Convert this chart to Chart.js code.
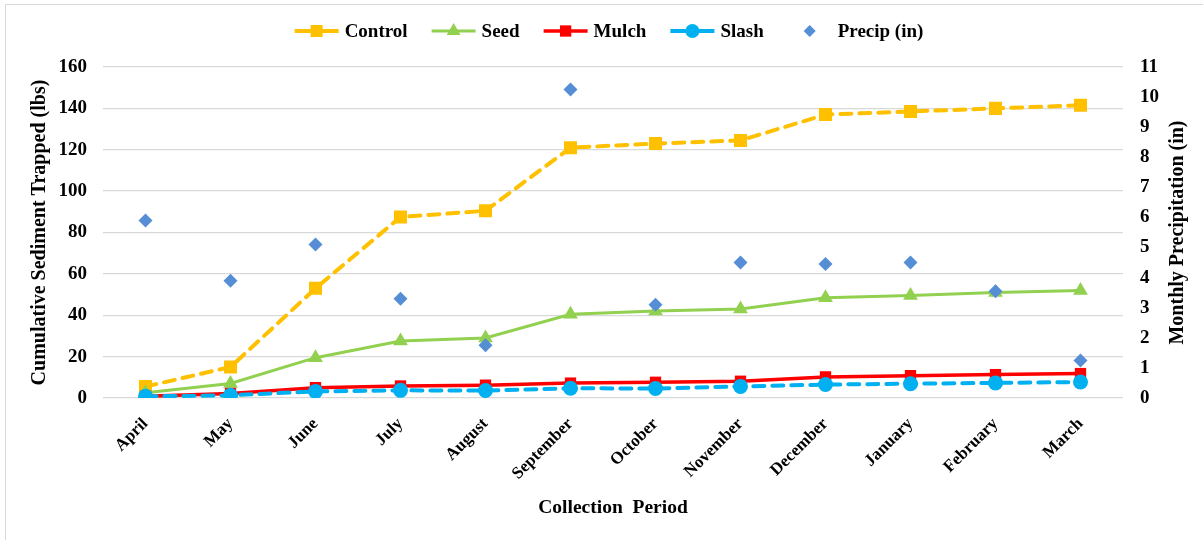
<!DOCTYPE html>
<html>
<head>
<meta charset="utf-8">
<title>Cumulative Sediment Trapped</title>
<script src="https://cdn.jsdelivr.net/npm/chart.js@4.4.1/dist/chart.umd.min.js"></script>
<style>
  html, body { margin: 0; padding: 0; background: #ffffff; }
  #frame { position: absolute; left: 5px; top: 4px; width: 1230px; height: 560px;
           border: 1px solid #D9D9D9; box-sizing: border-box; }
  #wrap { position: absolute; left: 0; top: 0; width: 1203px; height: 540px; }
</style>
</head>
<body>
<div id="frame"></div>
<div id="wrap"><canvas id="c" width="1203" height="540"></canvas></div>
<script>
// Collection periods (one per month)
const months = ['April', 'May', 'June', 'July', 'August', 'September',
                'October', 'November', 'December', 'January', 'February', 'March'];

// Cumulative sediment trapped per treatment (lbs)
const control = [5.5, 15, 53, 87.5, 90.5, 121, 123, 124.5, 137, 138.5, 140, 141.5];
const seed    = [2.5, 7, 19.5, 27.5, 29, 40.5, 42, 43, 48.5, 49.5, 51, 52];
const mulch   = [0.8, 2.2, 5, 5.8, 6.2, 7.2, 7.6, 8.1, 10.2, 10.8, 11.3, 11.8];
const slash   = [0.8, 1.3, 3.2, 3.7, 3.6, 4.7, 4.6, 5.6, 6.5, 6.9, 7.3, 7.7];

// Monthly precipitation (in)
const precip  = [5.9, 3.9, 5.1, 3.3, 1.75, 10.25, 3.1, 4.5, 4.45, 4.5, 3.55, 1.25];

// Axis tick settings
const sedimentTicks = { min: 0, max: 160, step: 20 };
const precipTicks   = { min: 0, max: 11, step: 1 };

const SERIF = '"Liberation Serif", "Times New Roman", Times, serif';
const boldFont = (size) => ({ family: SERIF, size: size, weight: 'bold' });

// Legend drawn as line + marker + label, centred over the plot
const seriesLegend = {
  id: 'seriesLegend',
  afterDraw(chart) {
    const ctx = chart.ctx;
    const area = chart.chartArea;
    ctx.save();
    ctx.font = 'bold 19px ' + SERIF;
    ctx.textBaseline = 'middle';
    const lineLen = 44, gap = 6, spacing = 24, y = 31;
    const items = chart.data.datasets.map(ds => ({
      ds, w: lineLen + gap + ctx.measureText(ds.label).width
    }));
    const total = items.reduce((s, it) => s + it.w, 0) + spacing * (items.length - 1);
    let x = (area.left + area.right) / 2 - 4 - total / 2;
    items.forEach(({ ds, w }) => {
      if (ds.showLine !== false) {
        ctx.beginPath();
        ctx.strokeStyle = ds.borderColor;
        ctx.lineWidth = ds.borderWidth;
        ctx.setLineDash([]);
        ctx.moveTo(x, y);
        ctx.lineTo(x + lineLen, y);
        ctx.stroke();
      }
      ctx.fillStyle = ds.pointBackgroundColor;
      Chart.helpers.drawPoint(ctx, {
        pointStyle: ds.pointStyle, radius: ds.legendRadius, rotation: 0, borderWidth: 0
      }, x + lineLen / 2, y);
      ctx.fillStyle = '#000000';
      ctx.textAlign = 'left';
      ctx.fillText(ds.label, x + lineLen + gap, y + 1);
      x += w + spacing;
    });
    ctx.restore();
  }
};

// Right-hand axis title, reading bottom to top
const rightTitle = {
  id: 'rightTitle',
  afterDraw(chart) {
    const ctx = chart.ctx;
    const area = chart.chartArea;
    ctx.save();
    ctx.font = 'bold 20px ' + SERIF;
    ctx.fillStyle = '#000000';
    ctx.textAlign = 'center';
    ctx.textBaseline = 'middle';
    ctx.translate(1178, (area.top + area.bottom) / 2);
    ctx.rotate(-Math.PI / 2);
    ctx.fillText('Monthly Precipitation (in)', 0, 0);
    ctx.restore();
  }
};

new Chart(document.getElementById('c'), {
  type: 'line',
  data: {
    labels: months,
    datasets: [
      {
        label: 'Control', data: control, yAxisID: 'y', order: 5,
        borderColor: '#FFC000', backgroundColor: '#FFC000', borderWidth: 4,
        borderDash: [11, 8], borderCapStyle: 'round',
        pointStyle: 'rect', pointRadius: 9.2, legendRadius: 8.5,
        pointBackgroundColor: '#FFC000', pointBorderWidth: 0
      },
      {
        label: 'Seed', data: seed, yAxisID: 'y', order: 4,
        borderColor: '#92D050', backgroundColor: '#92D050', borderWidth: 3,
        pointStyle: 'triangle', pointRadius: 8.5, legendRadius: 8,
        pointBackgroundColor: '#92D050', pointBorderWidth: 0
      },
      {
        label: 'Mulch', data: mulch, yAxisID: 'y', order: 3,
        borderColor: '#FF0000', backgroundColor: '#FF0000', borderWidth: 3.5,
        pointStyle: 'rect', pointRadius: 8, legendRadius: 8,
        pointBackgroundColor: '#FF0000', pointBorderWidth: 0
      },
      {
        label: 'Slash', data: slash, yAxisID: 'y', order: 2,
        borderColor: '#00B0F0', backgroundColor: '#00B0F0', borderWidth: 4,
        borderDash: [11, 8], borderCapStyle: 'round',
        pointStyle: 'circle', pointRadius: 7.5, legendRadius: 7,
        pointBackgroundColor: '#00B0F0', pointBorderWidth: 0
      },
      {
        label: 'Precip (in)', data: precip, yAxisID: 'y1', order: 1,
        showLine: false, borderColor: '#558ED5', backgroundColor: '#558ED5', borderWidth: 0,
        pointStyle: 'rectRot', pointRadius: 7, legendRadius: 6,
        pointBackgroundColor: '#558ED5', pointBorderWidth: 0
      }
    ]
  },
  options: {
    responsive: false,
    animation: false,
    devicePixelRatio: 1,
    layout: { padding: { top: 67, left: 0, right: 0, bottom: 0 } },
    plugins: {
      legend: { display: false },
      tooltip: { enabled: false }
    },
    elements: { line: { tension: 0 } },
    scales: {
      x: {
        type: 'category',
        offset: true,
        grid: { display: false, drawTicks: false },
        border: { display: false },
        ticks: {
          color: '#000000', font: boldFont(17), padding: 16,
          maxRotation: 45, minRotation: 45, autoSkip: false
        },
        title: {
          display: true, text: 'Collection  Period', color: '#000000',
          font: boldFont(19.5), padding: { top: 0, bottom: 20 }
        },
        afterFit: (s) => { s.height = 142; }
      },
      y: {
        position: 'left',
        min: sedimentTicks.min, max: sedimentTicks.max,
        grid: { color: '#D9D9D9', lineWidth: 1.3, drawTicks: false },
        border: { display: false },
        ticks: {
          stepSize: sedimentTicks.step, color: '#000000', font: boldFont(19), padding: 16
        },
        title: {
          display: true, text: 'Cumulative Sediment Trapped (lbs)', color: '#000000',
          font: boldFont(20), padding: { top: 28, bottom: 0 }
        },
        afterFit: (s) => { s.width = 103; }
      },
      y1: {
        position: 'right',
        min: precipTicks.min, max: precipTicks.max,
        grid: { display: false, drawTicks: false },
        border: { display: false },
        ticks: {
          stepSize: precipTicks.step, color: '#000000', font: boldFont(19), padding: 17
        },
        afterFit: (s) => { s.width = 80; }
      }
    }
  },
  plugins: [seriesLegend, rightTitle]
});
</script>
</body>
</html>
